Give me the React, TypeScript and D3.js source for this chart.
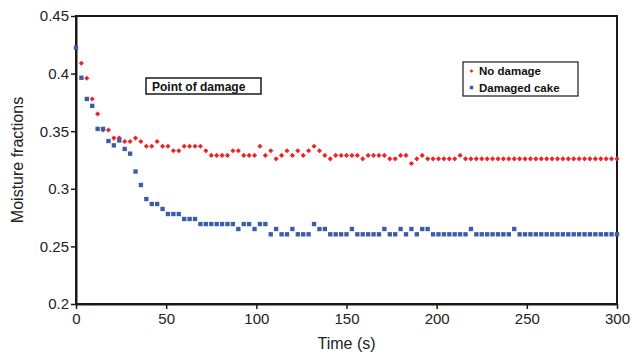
import React, { useEffect, useRef } from 'react';
import * as d3 from 'd3';

// times (s) sampled every 3 s
const redTimes = d3.range(3, 301, 3);
const blueTimes = d3.range(0, 301, 3);

// No damage (red) readings
const noDamage = [
  0.409, 0.396, 0.378, 0.365, 0.351, 0.351, 0.344, 0.344, 0.341, 0.341,
  0.344, 0.341, 0.337, 0.337, 0.341, 0.337, 0.337, 0.333, 0.333, 0.337,
  0.337, 0.337, 0.337, 0.333, 0.329, 0.329, 0.329, 0.329, 0.333, 0.333,
  0.329, 0.329, 0.329, 0.337, 0.329, 0.333, 0.326, 0.329, 0.333, 0.329,
  0.333, 0.329, 0.333, 0.337, 0.333, 0.329, 0.326, 0.329, 0.329, 0.329,
  0.329, 0.329, 0.326, 0.329, 0.329, 0.329, 0.329, 0.326, 0.326, 0.329,
  0.329, 0.322, 0.326, 0.329, 0.326, 0.326, 0.326, 0.326, 0.326, 0.326,
  0.329, 0.326, 0.326, 0.326, 0.326, 0.326, 0.326, 0.326, 0.326, 0.326,
  0.326, 0.326, 0.326, 0.326, 0.326, 0.326, 0.326, 0.326, 0.326, 0.326,
  0.326, 0.326, 0.326, 0.326, 0.326, 0.326, 0.326, 0.326, 0.326, 0.326,
];

// Damaged cake (blue) readings
const damaged = [
  0.4225, 0.3964, 0.378, 0.372, 0.352, 0.352, 0.3415, 0.3377, 0.342, 0.3346,
  0.3305, 0.315, 0.3033, 0.2911, 0.2868, 0.2868, 0.2825, 0.2781, 0.2781, 0.2781,
  0.2738, 0.2738, 0.2738, 0.2694, 0.2694, 0.2694, 0.2694, 0.2694, 0.2694, 0.2694,
  0.2651, 0.2694, 0.2694, 0.2651, 0.2694, 0.2694, 0.2605, 0.2651, 0.2605, 0.2605,
  0.2651, 0.2605, 0.2605, 0.2605, 0.2694, 0.2651, 0.2651, 0.2605, 0.2605, 0.2605,
  0.2605, 0.2651, 0.2605, 0.2605, 0.2605, 0.2605, 0.2605, 0.2651, 0.2605, 0.2605,
  0.2651, 0.2605, 0.2651, 0.2605, 0.2651, 0.2651, 0.2605, 0.2605, 0.2605, 0.2605,
  0.2605, 0.2605, 0.2605, 0.2651, 0.2605, 0.2605, 0.2605, 0.2605, 0.2605, 0.2605,
  0.2605, 0.2651, 0.2605, 0.2605, 0.2605, 0.2605, 0.2605, 0.2605, 0.2605, 0.2605,
  0.2605, 0.2605, 0.2605, 0.2605, 0.2605, 0.2605, 0.2605, 0.2605, 0.2605, 0.2605,
  0.2605,
];

const xTicks = [0, 50, 100, 150, 200, 250, 300];
const yTicks = [0.2, 0.25, 0.3, 0.35, 0.4, 0.45];
const seriesNames = ['No damage', 'Damaged cake'];

const App = () => {
  const ref = useRef<SVGSVGElement | null>(null);

  useEffect(() => {
    const width = 632;
    const height = 356;
    const margin = { top: 16, right: 15, bottom: 52, left: 76 };
    const innerW = width - margin.left - margin.right;
    const innerH = height - margin.top - margin.bottom;
    const red = '#ec2227';
    const blue = '#3a5ca9';
    const font = 'Liberation Sans, Arial, sans-serif';

    const svg = d3.select(ref.current);
    svg.selectAll('*').remove();

    const x = d3.scaleLinear().domain([0, 300]).range([0, innerW]);
    const y = d3.scaleLinear().domain([0.2, 0.45]).range([innerH, 0]);

    const g = svg.append('g').attr('transform', `translate(${margin.left},${margin.top})`);

    // frame
    g.append('rect')
      .attr('width', innerW)
      .attr('height', innerH)
      .attr('fill', 'none')
      .attr('stroke', '#1a1a1a')
      .attr('stroke-width', 2);

    // axes
    const yAxis = g.append('g').call(
      d3.axisLeft(y).tickValues(yTicks).tickSize(5).tickSizeOuter(0).tickFormat((d) => d3.format('')(+d))
    );
    const xAxis = g.append('g')
      .attr('transform', `translate(0,${innerH})`)
      .call(d3.axisBottom(x).tickValues(xTicks).tickSize(5).tickSizeOuter(0));
    [xAxis, yAxis].forEach((a) => {
      a.select('.domain').attr('stroke', '#1a1a1a').attr('stroke-width', 2);
      a.selectAll('.tick line').attr('stroke', '#1a1a1a').attr('stroke-width', 1.5);
      a.selectAll('.tick text')
        .attr('font-family', font)
        .attr('font-size', 15)
        .attr('fill', '#222');
    });
    yAxis.selectAll('.tick text').attr('x', -7);
    xAxis.selectAll('.tick text').attr('y', 9);

    // points: red as small diamonds (rotated squares)
    g.append('g')
      .selectAll('path')
      .data(noDamage)
      .enter()
      .append('path')
      .attr('transform', (d, i) => `translate(${x(redTimes[i])},${y(d)}) rotate(45)`)
      .attr('d', d3.symbol(d3.symbolSquare).size(13)())
      .attr('fill', red);

    g.append('g')
      .selectAll('path')
      .data(damaged)
      .enter()
      .append('path')
      .attr('transform', (d, i) => `translate(${x(blueTimes[i])},${y(d)})`)
      .attr('d', d3.symbol(d3.symbolSquare).size(19)())
      .attr('fill', blue);

    // annotation box
    const ann = g.append('g').attr('transform', `translate(${146 - margin.left},${78 - margin.top})`);
    ann.append('rect')
      .attr('width', 115)
      .attr('height', 16)
      .attr('fill', 'white')
      .attr('stroke', '#1a1a1a')
      .attr('stroke-width', 1.5);
    ann.append('text')
      .attr('x', 6)
      .attr('y', 12.5)
      .attr('font-family', font)
      .attr('font-weight', 'bold')
      .attr('font-size', 12)
      .attr('fill', '#111')
      .text('Point of damage');

    // legend
    const leg = g.append('g').attr('transform', `translate(${463 - margin.left},${62 - margin.top})`);
    leg.append('rect')
      .attr('width', 115)
      .attr('height', 34)
      .attr('fill', 'white')
      .attr('stroke', '#1a1a1a')
      .attr('stroke-width', 1.2);
    const items = leg.selectAll('.item')
      .data(seriesNames)
      .enter()
      .append('g')
      .attr('class', 'item')
      .attr('transform', (d, i) => `translate(0,${9 + i * 16.5})`);
    items.append('path')
      .attr('transform', (d, i) => (i === 0 ? 'translate(8.5,0) rotate(45)' : 'translate(8.5,0)'))
      .attr('d', (d, i) =>
        i === 0 ? d3.symbol(d3.symbolSquare).size(7)() : d3.symbol(d3.symbolSquare).size(12)()
      )
      .attr('fill', (d, i) => (i === 0 ? red : blue));
    items.append('text')
      .attr('x', 16)
      .attr('y', 4)
      .attr('font-family', font)
      .attr('font-weight', 'bold')
      .attr('font-size', 11.5)
      .attr('fill', '#111')
      .text((d) => d);

    // axis titles
    svg.append('text')
      .attr('x', margin.left + innerW / 2)
      .attr('y', 349)
      .attr('text-anchor', 'middle')
      .attr('font-family', font)
      .attr('font-size', 16)
      .attr('fill', '#222')
      .text('Time (s)');
    svg.append('text')
      .attr('transform', `translate(23,${margin.top + innerH / 2}) rotate(-90)`)
      .attr('text-anchor', 'middle')
      .attr('font-family', font)
      .attr('font-size', 16)
      .attr('fill', '#222')
      .text('Moisture fractions');
  }, []);

  return (
    <svg
      ref={ref}
      width={632}
      height={356}
      style={{ position: 'absolute', left: 0, top: 0, background: 'white' }}
    />
  );
};

export default App;
